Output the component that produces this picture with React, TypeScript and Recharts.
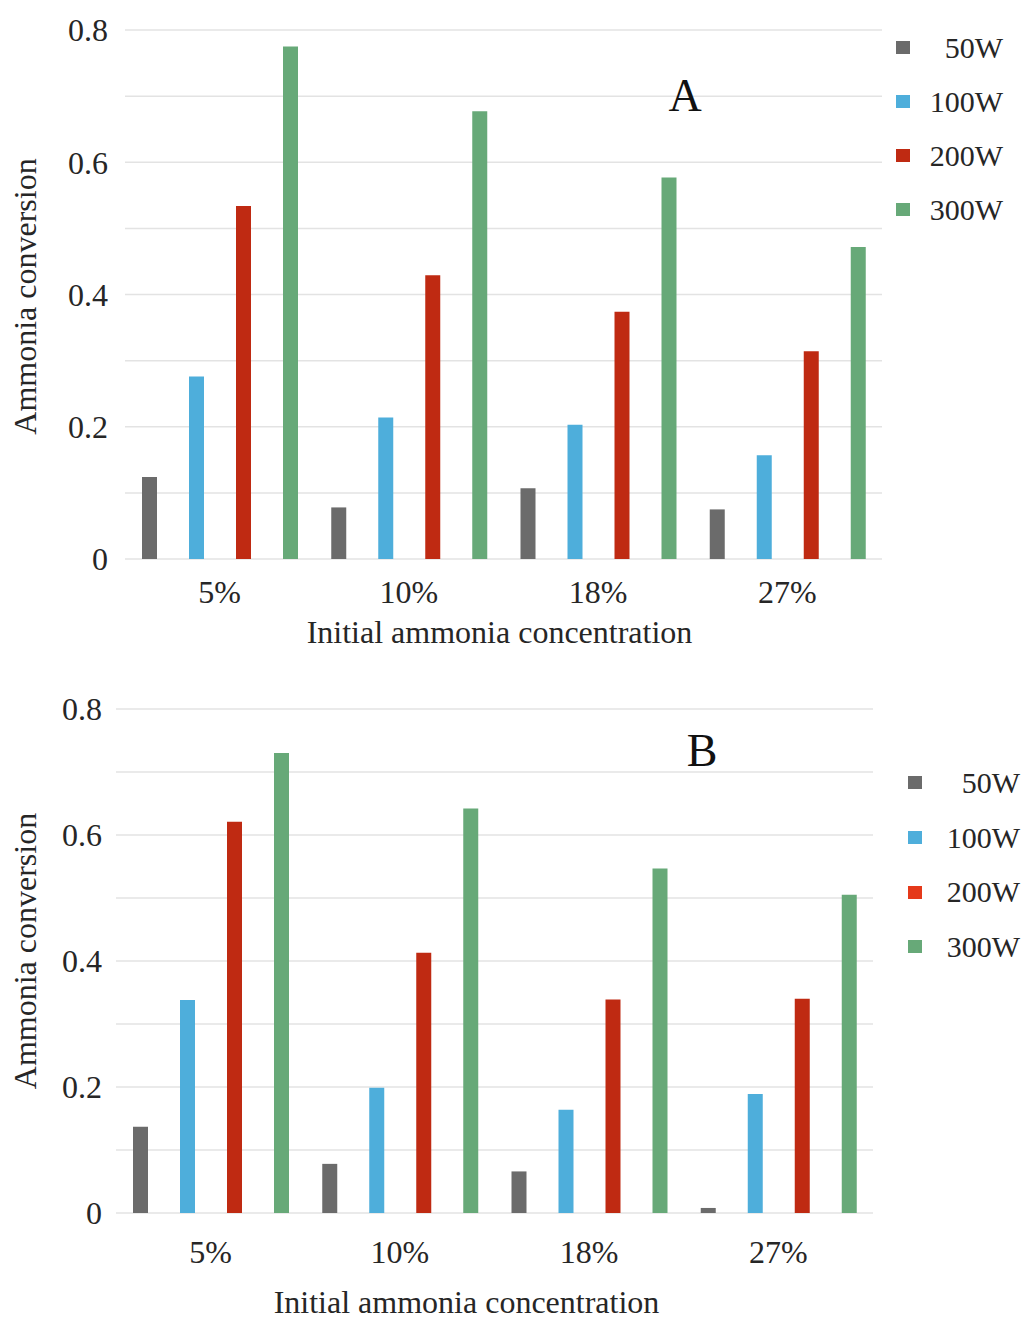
import { BarChart, Bar, XAxis, YAxis, CartesianGrid, Legend, Label } from 'recharts';

// categories and series
const concentrations = ['5%', '10%', '18%', '27%'];
const powers = ['50W', '100W', '200W', '300W'];
const barColors = ['#6b6b6b', '#4eaedb', '#bf2a12', '#67a978'];
const legendColorsB = ['#6b6b6b', '#4eaedb', '#e5391a', '#67a978'];

// panel A
const a50 = [0.124, 0.078, 0.107, 0.075];
const a100 = [0.276, 0.214, 0.203, 0.157];
const a200 = [0.534, 0.429, 0.374, 0.314];
const a300 = [0.775, 0.677, 0.577, 0.472];

// panel B
const b50 = [0.137, 0.078, 0.066, 0.008];
const b100 = [0.338, 0.199, 0.164, 0.189];
const b200 = [0.621, 0.413, 0.339, 0.34];
const b300 = [0.73, 0.642, 0.547, 0.505];

const yTicks = [0, 0.1, 0.2, 0.3, 0.4, 0.5, 0.6, 0.7, 0.8];
const yTitle = 'Ammonia conversion';
const xTitle = 'Initial ammonia concentration';

const FONT = '"Liberation Serif", "Times New Roman", serif';
const INK = '#262626';

const buildRows = (series: number[][]) =>
  concentrations.map((c, i) => {
    const row: Record<string, string | number> = { conc: c };
    powers.forEach((p, k) => (row[p] = series[k][i]));
    return row;
  });

const dataA = buildRows([a50, a100, a200, a300]);
const dataB = buildRows([b50, b100, b200, b300]);

const fmtY = (v: number) => {
  if (Math.round(v * 10) % 2 !== 0) return '';
  return v === 0 ? '0' : v.toFixed(1);
};

type PanelProps = {
  data: Record<string, string | number>[];
  letter: string;
  letterPos: [number, number];
  margin: { top: number; right: number; bottom: number; left: number };
  yAxisWidth: number;
  yTickMargin: number;
  xTickMargin: number;
  yTitleShift: number;
  xTitleShift: number;
  xTitleBaseline: number;
  legendColors: string[];
  legendBox: { left: number; top: number; textRight: number; row: number };
};

function Panel(p: PanelProps) {
  const renderLegend = () => (
    <div style={{ position: 'relative', width: p.legendBox.textRight, fontFamily: FONT }}>
      {powers.map((name, i) => (
        <div key={name} style={{ position: 'relative', height: p.legendBox.row }}>
          <span
            style={{
              position: 'absolute',
              left: 0,
              top: p.legendBox.row / 2 - 7,
              width: 14,
              height: 13,
              background: p.legendColors[i],
            }}
          />
          <span
            style={{
              position: 'absolute',
              right: 0,
              top: 0,
              lineHeight: `${p.legendBox.row}px`,
              fontSize: 30,
              color: INK,
            }}
          >
            {name}
          </span>
        </div>
      ))}
    </div>
  );

  return (
    <BarChart
      width={1025}
      height={660}
      data={p.data}
      margin={p.margin}
      barSize={15}
      barGap={32}
      style={{ fontFamily: FONT }}
    >
      <CartesianGrid vertical={false} stroke="#e3e3e3" strokeWidth={1.5} />
      <XAxis
        dataKey="conc"
        axisLine={false}
        tickLine={false}
        height={60}
        tickMargin={p.xTickMargin}
        tick={{ fontSize: 32, fill: INK, fontFamily: FONT }}
        interval={0}
      >
        <Label
          content={({ viewBox }: any) => (
            <text
              x={viewBox.x + viewBox.width / 2 + p.xTitleShift}
              y={viewBox.y + p.xTitleBaseline}
              textAnchor="middle"
              fontSize={32}
              fill={INK}
              fontFamily={FONT}
            >
              {xTitle}
            </text>
          )}
        />
      </XAxis>
      <YAxis
        domain={[0, 0.8]}
        ticks={yTicks}
        interval={0}
        width={p.yAxisWidth}
        axisLine={false}
        tickLine={false}
        tickMargin={p.yTickMargin}
        tickFormatter={fmtY}
        tick={{ fontSize: 32, fill: INK, fontFamily: FONT }}
      >
        <Label
          content={({ viewBox }: any) => {
            const cx = 25;
            const cy = viewBox.y + viewBox.height / 2 + p.yTitleShift;
            return (
              <text
                x={cx}
                y={cy}
                transform={`rotate(-90 ${cx} ${cy})`}
                textAnchor="middle"
                dominantBaseline="central"
                fontSize={32}
                fill={INK}
                fontFamily={FONT}
              >
                {yTitle}
              </text>
            );
          }}
        />
      </YAxis>
      <Legend
        layout="vertical"
        align="center"
        verticalAlign="middle"
        content={renderLegend}
        wrapperStyle={{ left: p.legendBox.left, top: p.legendBox.top, width: p.legendBox.textRight }}
      />
      {powers.map((k, i) => (
        <Bar key={k} dataKey={k} fill={barColors[i]} isAnimationActive={false} />
      ))}
      <text
        x={p.letterPos[0]}
        y={p.letterPos[1]}
        textAnchor="middle"
        fontSize={46}
        fill="#111"
        fontFamily={FONT}
      >
        {p.letter}
      </text>
    </BarChart>
  );
}

export default function App() {
  return (
    <div
      style={{
        position: 'absolute',
        left: 0,
        top: 0,
        width: 1025,
        height: 1320,
        background: '#fff',
        fontFamily: FONT,
      }}
    >
      <div style={{ position: 'absolute', left: 0, top: 0 }}>
        <Panel
          data={dataA}
          letter="A"
          letterPos={[685, 111]}
          margin={{ top: 30, right: 143, bottom: 41, left: 0 }}
          yAxisWidth={125}
          yTickMargin={11}
          xTickMargin={15}
          yTitleShift={2}
          xTitleShift={-4}
          xTitleBaseline={84}
          legendColors={barColors}
          legendBox={{ left: 896, top: 21, textRight: 107, row: 54 }}
        />
      </div>
      <div style={{ position: 'absolute', left: 0, top: 660 }}>
        <Panel
          data={dataB}
          letter="B"
          letterPos={[702, 106]}
          margin={{ top: 49, right: 152, bottom: 47, left: 0 }}
          yAxisWidth={116}
          yTickMargin={8}
          xTickMargin={21}
          yTitleShift={-10}
          xTitleShift={-28}
          xTitleBaseline={100}
          legendColors={legendColorsB}
          legendBox={{ left: 908, top: 96, textRight: 112, row: 54.7 }}
        />
      </div>
    </div>
  );
}
